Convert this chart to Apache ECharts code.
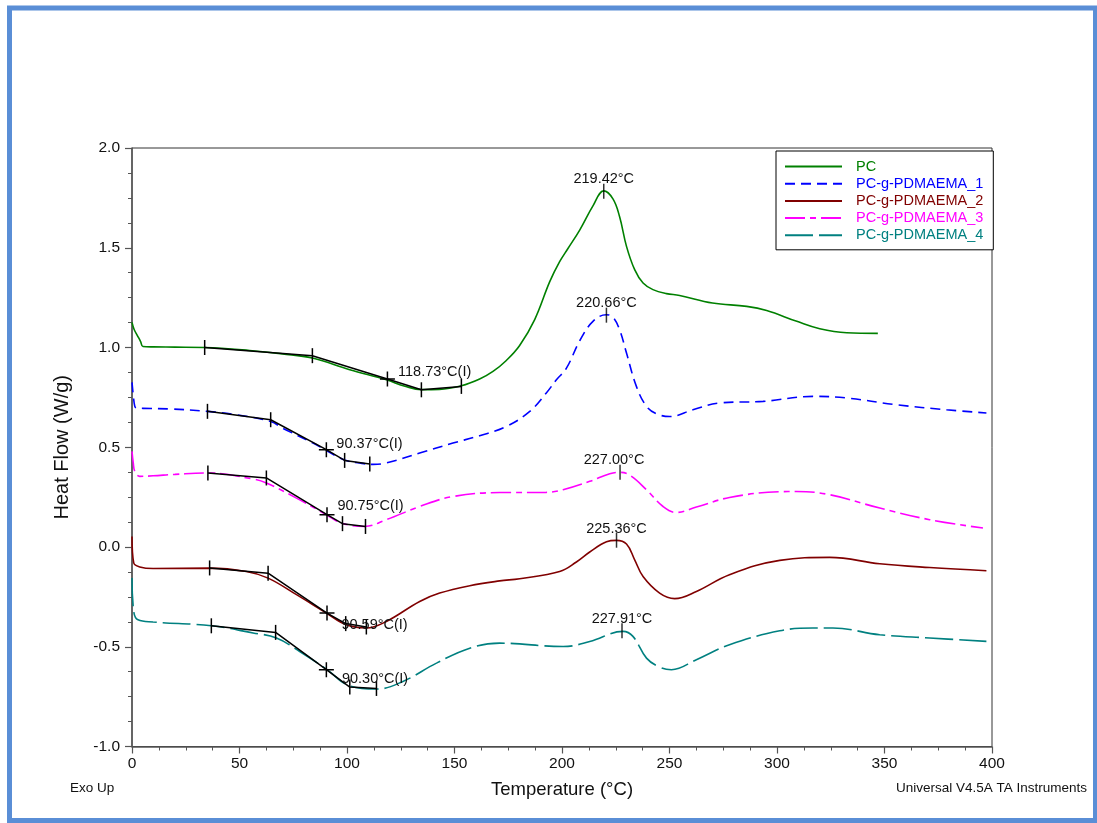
<!DOCTYPE html>
<html><head><meta charset="utf-8">
<script src="https://cdn.jsdelivr.net/npm/echarts@6/dist/echarts.min.js"></script>
<style>html,body{margin:0;padding:0;background:#fff}#c{width:1097px;height:823px}</style>
</head><body><div id="c"></div>
<script>
// ---- data (Temperature °C, Heat Flow W/g) ----
const seriesNames = ['PC','PC-g-PDMAEMA_1','PC-g-PDMAEMA_2','PC-g-PDMAEMA_3','PC-g-PDMAEMA_4'];
const pcData = [[0,1.126],[1,1.09],[2.5,1.06],[4,1.03],[5.1,1.005],[10,1.003],[20,1.002],[33.8,1.0],[54.7,0.985],[70,0.968],[83.9,0.947],[101.3,0.889],[118.3,0.838],[127,0.806],[134.6,0.789],[143,0.79],[153.2,0.808],[161.7,0.842],[167.9,0.88],[174.1,0.935],[180.3,1.01],[187.3,1.14],[194.3,1.33],[198.9,1.43],[202.7,1.495],[208.3,1.59],[214.4,1.71],[219.4,1.785],[223.7,1.745],[226.8,1.655],[230,1.507],[233.8,1.39],[237.7,1.323],[242.3,1.29],[248.6,1.27],[254.7,1.261],[270,1.223],[285.9,1.206],[295.2,1.185],[309.2,1.131],[319.9,1.094],[332.4,1.074],[346.9,1.071]];
const g1Data = [[0,0.825],[0.6,0.76],[1.3,0.705],[2,0.697],[5.1,0.695],[17.5,0.692],[35.1,0.68],[48.6,0.663],[64.5,0.629],[70.2,0.595],[84.2,0.521],[90.4,0.484],[98.9,0.436],[105.9,0.421],[112.1,0.414],[118.3,0.421],[133.8,0.471],[149.3,0.521],[161.7,0.558],[174.1,0.604],[185,0.68],[192.7,0.772],[197.4,0.838],[202,0.895],[208.3,1.035],[214.4,1.131],[220.6,1.164],[223.7,1.152],[226.8,1.089],[230,0.972],[234.6,0.805],[239.3,0.705],[243.9,0.668],[250.1,0.654],[260.9,0.688],[273.3,0.722],[293.5,0.73],[316.7,0.755],[332.3,0.747],[355.5,0.713],[378.8,0.688],[397.4,0.672]];
const g2Data = [[0,0.053],[0.8,-0.08],[3.6,-0.1],[9.8,-0.108],[36.1,-0.106],[53.2,-0.123],[63.3,-0.156],[76.5,-0.239],[90.4,-0.331],[99.7,-0.39],[109,-0.406],[118.3,-0.373],[133.8,-0.273],[143.1,-0.231],[157.1,-0.194],[171,-0.17],[180.3,-0.159],[198.9,-0.123],[206.7,-0.075],[212.9,-0.025],[220.7,0.026],[225.3,0.033],[230,0.015],[233.8,-0.064],[237.7,-0.148],[245.4,-0.231],[252.4,-0.259],[262.5,-0.223],[277.9,-0.139],[301.3,-0.067],[324.5,-0.052],[347.8,-0.084],[371,-0.103],[397.4,-0.119]];
const g3Data = [[0,0.479],[0.6,0.42],[1.3,0.379],[3.6,0.354],[9.8,0.357],[20,0.364],[35.3,0.371],[56.3,0.341],[62.5,0.321],[76.5,0.245],[90.4,0.162],[97.4,0.12],[108.2,0.103],[118.3,0.137],[133.8,0.203],[149.3,0.253],[171,0.273],[192.7,0.274],[200.5,0.287],[212.9,0.329],[222.2,0.367],[226.8,0.374],[231.5,0.36],[239.3,0.287],[247,0.203],[253.2,0.173],[262.5,0.2],[277.9,0.248],[301.3,0.277],[309,0.278],[324.5,0.262],[347.8,0.195],[371,0.137],[395.8,0.095]];
const g4Data = [[0,-0.156],[0.8,-0.323],[2.8,-0.365],[9.8,-0.376],[36.9,-0.395],[56.3,-0.431],[67.2,-0.456],[78,-0.524],[90.4,-0.612],[101.3,-0.696],[113.7,-0.712],[126,-0.674],[141.6,-0.582],[157.1,-0.507],[171,-0.482],[200.5,-0.499],[212.9,-0.474],[228.4,-0.423],[233,-0.448],[239.3,-0.557],[245.4,-0.602],[250.9,-0.615],[262.5,-0.565],[277.9,-0.49],[301.3,-0.42],[316.7,-0.406],[326,-0.406],[347.8,-0.44],[371,-0.456],[397.4,-0.473]];

// glass-transition tangent constructions (onset, tangent, inflection, end, end)
const tgPC = [[33.8,1.0],[83.9,0.959],[118.8,0.842],[134.6,0.788],[153.2,0.805]];
const tgG1 = [[35.1,0.68],[64.5,0.638],[90.4,0.488],[98.9,0.434],[110.6,0.416]];
const tgG2 = [[36.1,-0.105],[63.3,-0.131],[90.7,-0.331],[99.4,-0.384],[109,-0.401]];
const tgG3 = [[35.3,0.371],[62.5,0.346],[90.7,0.162],[97.9,0.117],[108.6,0.103]];
const tgG4 = [[36.9,-0.395],[66.8,-0.428],[90.4,-0.615],[101.3,-0.702],[113.7,-0.709]];
const tgLabels = ['118.73°C(I)','90.37°C(I)','90.59°C(I)','90.75°C(I)','90.30°C(I)'];

// exothermic peaks
const peakPoints = [[219.42,1.783],[220.66,1.162],[225.36,0.034],[227.00,0.375],[227.91,-0.42]];
const peakLabels = ['219.42°C','220.66°C','225.36°C','227.00°C','227.91°C'];

const xTicks = {min:0, max:400, step:50};
const yTicks = {min:-1, max:2, step:0.5};

// ---- styles ----
const colors = ['#008000','#0000ff','#800000','#ff00ff','#008080'];
const dashes = ['solid',[10,6],'solid',[20,5,6,5],[28,6]];
const FONT = '"Liberation Sans", Arial, sans-serif';
const tgLabelPos = [[10.6,-7.3],[10,-6],[14.4,11.7],[10.4,-8.3],[15.6,9.3]];
const peakLabelPos = [[0,-12],[0,-12],[0,-11.5],[-6,-12.5],[0,-11.5]];
const CROSS = 'path://M4.5,0H5.5V10H4.5ZM0,4.5H10V5.5H0Z';

const curveData = [pcData,g1Data,g2Data,g3Data,g4Data];
const tgData = [tgPC,tgG1,tgG2,tgG3,tgG4];

const series = [];
curveData.forEach((d,i)=>{
  series.push({
    name: seriesNames[i], type:'line', data:d, symbol:'none', smooth:0.4,
    lineStyle:{color:colors[i], width:1.6, type:dashes[i]}, itemStyle:{color:colors[i]},
    z:2, animation:false
  });
});
tgData.forEach((d,i)=>{
  series.push({
    name:'tg'+i, type:'line', z:5, animation:false,
    lineStyle:{color:'#000', width:1.5}, itemStyle:{color:'#000'},
    showSymbol:true,
    data: d.map((p,j)=>{
      const o = {value:p};
      if (j===2) {
        o.symbol = CROSS; o.symbolSize = 15;
        o.label = {show:true, formatter: tgLabels[i], position:[tgLabelPos[i][0]+7.5, tgLabelPos[i][1]+7.5],
          align:'left', verticalAlign:'middle', fontSize:14.5, fontFamily:FONT, color:'#111', textBorderWidth:0};
      } else {
        o.symbol = 'rect'; o.symbolSize = [1.5,15];
      }
      return o;
    })
  });
});
series.push({
  name:'peaks', type:'scatter', z:6, animation:false, symbol:'rect', symbolSize:[1.5,15],
  itemStyle:{color:'#000'},
  data: peakPoints.map((p,i)=>({value:p, label:{show:true, formatter:peakLabels[i],
    position:[0.75+peakLabelPos[i][0], 7.5+peakLabelPos[i][1]], align:'center', verticalAlign:'middle',
    fontSize:14.5, fontFamily:FONT, color:'#111', textBorderWidth:0, opacity:1}}))
});

const chart = echarts.init(document.getElementById('c'), null, {renderer:'canvas'});
chart.setOption({
  backgroundColor:'#fff',
  animation:false,
  grid:{left:132, top:148, width:860, height:598.5, show:true, borderColor:'#333', borderWidth:1, backgroundColor:'transparent'},
  legend:{
    orient:'vertical', left:776, top:151, padding:[8,10,7,8], itemWidth:57, itemHeight:12, itemGap:2.2,
    borderColor:'#000', borderWidth:1, backgroundColor:'#fff', borderRadius:0,
    itemStyle:{opacity:0},
    textStyle:{fontSize:14.5, fontFamily:FONT, padding:[0,0,0,9]},
    data: seriesNames.map((n,i)=>({name:n, textStyle:{color:colors[i]}}))
  },
  xAxis:{
    type:'value', min:xTicks.min, max:xTicks.max, interval:xTicks.step,
    name:'Temperature (°C)', nameLocation:'middle', nameGap:34,
    nameTextStyle:{fontSize:18.5, fontFamily:FONT, color:'#111'},
    axisLine:{onZero:false, lineStyle:{color:'#555', width:1.5}},
    axisTick:{length:7, lineStyle:{color:'#555', width:1.2}},
    minorTick:{show:true, splitNumber:4, length:4, lineStyle:{color:'#555', width:1}},
    splitLine:{show:false},
    axisLabel:{fontSize:15.5, fontFamily:FONT, color:'#111', margin:9}
  },
  yAxis:{
    type:'value', min:yTicks.min, max:yTicks.max, interval:yTicks.step,
    name:'Heat Flow (W/g)', nameLocation:'middle', nameGap:60, nameRotate:90,
    nameTextStyle:{fontSize:20, fontFamily:FONT, color:'#111'},
    axisLine:{show:true, onZero:false, lineStyle:{color:'#555', width:1.5}},
    axisTick:{show:true, length:7, lineStyle:{color:'#555', width:1.2}},
    minorTick:{show:true, splitNumber:4, length:4, lineStyle:{color:'#555', width:1}},
    splitLine:{show:false},
    axisLabel:{fontSize:15.5, fontFamily:FONT, color:'#111', margin:12, formatter:v=>v.toFixed(1)}
  },
  graphic:[
    {type:'text', left:70, top:781, style:{text:'Exo Up', fontSize:13.5, fontFamily:FONT, fill:'#111'}},
    {type:'text', right:10, top:781, style:{text:'Universal V4.5A TA Instruments', fontSize:13.5, fontFamily:FONT, fill:'#111'}},
    {type:'rect', shape:{x:9.5, y:8, width:1086, height:812.5}, style:{fill:'none', stroke:'#5a8ed6', lineWidth:5}, silent:true, z:100}
  ],
  series: series
});
</script></body></html>
